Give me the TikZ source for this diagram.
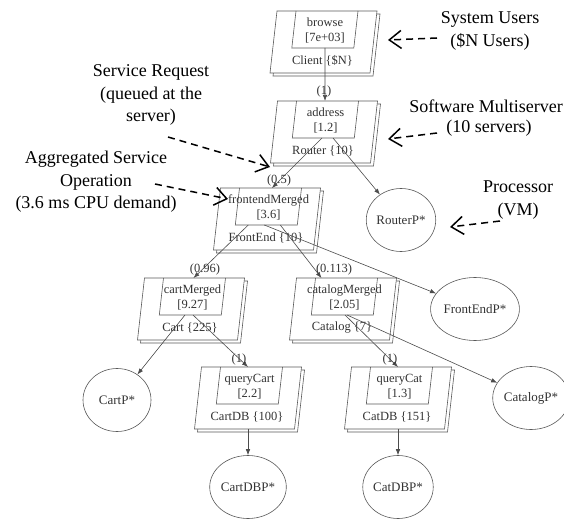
\documentclass[tikz,border=0pt]{standalone}
\usepackage{fontspec}
\setmainfont{Liberation Serif}
\usetikzlibrary{arrows.meta,shapes.geometric,calc}
\tikzset{
  lqnline/.style={draw=black!65, line width=0.6bp},
  entrytxt/.style={font=\fontsize{12.5bp}{14.5bp}\selectfont, text=black!80, inner sep=0pt, align=center},
  proc/.style={ellipse, draw=black!65, line width=0.6bp, minimum width=68bp, minimum height=63bp, inner sep=0pt, font=\fontsize{13bp}{14bp}\selectfont, text=black!80},
  lbl/.style={font=\fontsize{12.5bp}{14bp}\selectfont, text=black!80, inner sep=0pt},
  call/.style={draw=black!70, line width=0.6bp, -{Latex[length=6bp,width=4.5bp]}},
  annot/.style={draw=black, line width=1.5bp, dash pattern=on 7bp off 5bp, -{Straight Barb[length=12bp,width=18bp,line width=1.5bp]}},
  annottxt/.style={align=center, font=\fontsize{18bp}{22.5bp}\selectfont, inner sep=0pt},
}
\newcommand{\lqnTask}[6]{%
  \begin{scope}[shift={(#2,#3)}]
    \draw[lqnline, fill=white] (-43.5,3) -- (56.5,3) -- (49.5,65) -- (-50.5,65) -- cycle;
    \draw[lqnline, fill=white] (-46.5,0) -- (53.5,0) -- (46.5,62) -- (-53.5,62) -- cycle;
    \draw[lqnline] (-27.5,0) -- (-31.7,37) -- (30.3,37) -- (34.5,0);
    \node[entrytxt] (#1) at (1.5,19.5) {#4\\{}#5};
    \node[lbl] (#1-task) at (-1,50) {#6};
    \coordinate (#1-top) at (3.5,0);
    \coordinate (#1-eb) at (-0.7,37);
    \coordinate (#1-bot) at (-3.5,62);
  \end{scope}}
\begin{document}
\begin{tikzpicture}[x=1bp, y=-1bp]
  \useasboundingbox (0,0) rectangle (564,519);
  \fill[white] (0,0) rectangle (564,519);

  % tasks
  \lqnTask{cl}{323.5}{11}{browse}{[7e+03]}{Client \{\$N\}}
  \lqnTask{rt}{324}{101}{address}{[1.2]}{Router \{10\}}
  \lqnTask{fe}{267}{188}{frontendMerged}{[3.6]}{FrontEnd \{10\}}
  \lqnTask{ca}{191}{278}{cartMerged}{[9.27]}{Cart \{225\}}
  \lqnTask{cg}{343}{278}{catalogMerged}{[2.05]}{Catalog \{7\}}
  \lqnTask{qc}{248}{367}{queryCart}{[2.2]}{CartDB \{100\}}
  \lqnTask{qt}{398}{367}{queryCat}{[1.3]}{CatDB \{151\}}

  % processors
  \node[proc] (rp) at (401,220) {RouterP*};
  \node[proc] (fep) at (475,309) {FrontEndP*};
  \node[proc] (catp) at (531,398) {CatalogP*};
  \node[proc] (cp) at (117,400) {CartP*};
  \node[proc] (cdbp) at (248,487) {CartDBP*};
  \node[proc] (ctdbp) at (398,487) {CatDBP*};

  % calls and allocations
  \draw[call] ($(cl-eb)+(2.2,0)$) -- ($(rt-top)+(-2.5,0)$);
  \draw[call] ($(rt-eb)+(-1.3,0)$) -- ($(fe-top)+(1.5,0)$);
  \draw[call] ($(rt-eb)+(9.7,0)$) -- (rp);
  \draw[call] ($(fe-eb)+(-18,0)$) -- ($(ca-top)+(-1,0)$);
  \draw[call] ($(fe-eb)+(14,0)$) -- ($(cg-top)+(-25,0)$);
  \draw[call] ($(fe-eb)+(-2,0)$) -- (fep);
  \draw[call] ($(ca-eb)+(2.7,0)$) -- ($(qc-top)+(-3.5,0)$);
  \draw[call] ($(ca-eb)+(-5.3,0)$) -- (cp);
  \draw[call] ($(cg-eb)+(2.7,0)$) -- ($(qt-top)+(-3.5,0)$);
  \draw[call] ($(cg-eb)+(4.7,0)$) -- (catp);
  \draw[call] ($(qc-bot)+(3.5,0)$) -- (cdbp);
  \draw[call] ($(qt-bot)+(3.5,0)$) -- (ctdbp);

  % call labels
  \node[lbl] (l1) at (324,91) {(1)};
  \node[lbl] (l2) at (279,180) {(0.5)};
  \node[lbl] (l3) at (205,269) {(0.96)};
  \node[lbl] (l4) at (334,269) {(0.113)};
  \node[lbl] (l5) at (239,359) {(1)};
  \node[lbl] (l6) at (390,359) {(1)};

  % annotations
  \node[annottxt] (su) at (490,31) {System Users\\(\$N Users)};
  \node[annottxt, anchor=east] (sm1) at (563,106) {Software Multiserver};
  \node[annottxt] (sm2) at (489,128) {(10 servers)};
  \node[annottxt] (pr) at (518,200) {Processor\\(VM)};
  \node[annottxt] (sr) at (151,95) {Service Request\\(queued at the\\server)};
  \node[annottxt] (ag) at (96,182) {Aggregated Service\\Operation\\(3.6 ms CPU demand)};

  \coordinate (su-s) at (437,38);  \coordinate (su-e) at (388,40);
  \coordinate (sm-s) at (437,133); \coordinate (sm-e) at (388,139);
  \coordinate (pr-s) at (500,221); \coordinate (pr-e) at (450,227);
  \coordinate (sr-s) at (168,137); \coordinate (sr-e) at (270,167);
  \coordinate (ag-s) at (155,184); \coordinate (ag-e) at (228,199);
  \draw[annot] (su-s) -- (su-e);
  \draw[annot] (sm-s) -- (sm-e);
  \draw[annot] (pr-s) -- (pr-e);
  \draw[annot] (sr-s) -- (sr-e);
  \draw[annot] (ag-s) -- (ag-e);
\end{tikzpicture}
\end{document}
